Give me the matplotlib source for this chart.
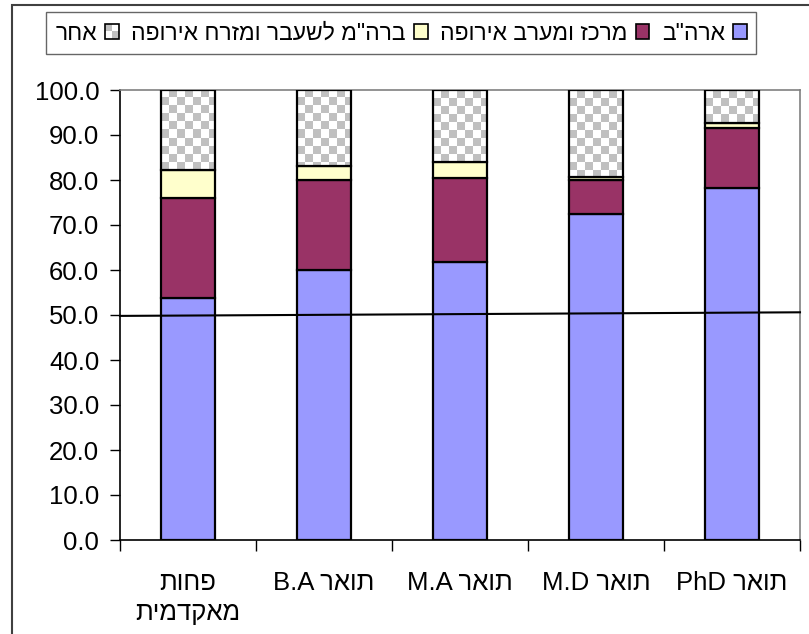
import numpy as np
import matplotlib
matplotlib.use("Agg")
import matplotlib.pyplot as plt
from matplotlib.patches import Rectangle
from matplotlib.colors import ListedColormap
from matplotlib.legend_handler import HandlerBase

plt.rcParams['font.family'] = ['Liberation Sans', 'DejaVu Sans']

# ---- data ----
categories = ['פחות\nמאקדמית', 'תואר B.A', 'תואר M.A', 'תואר M.D', 'תואר PhD']
series_names = ['ארה"ב', 'מרכז ומערב אירופה', 'ברה"מ לשעבר ומזרח אירופה', 'אחר']
usa = [53.8, 60.0, 61.8, 72.4, 78.3]
west_europe = [22.3, 20.1, 18.6, 7.6, 13.3]
fsu_east_europe = [6.1, 3.0, 3.7, 0.7, 1.1]
other = [17.8, 16.9, 15.9, 19.3, 7.3]
ref_line_y = [49.8, 50.6]
yticks = [0, 10, 20, 30, 40, 50, 60, 70, 80, 90, 100]


def rtl(s):
    """Convert logical-order Hebrew text to visual order for LTR rendering."""
    out = []
    for line in s.split('\n'):
        words = line.split(' ')
        vis = []
        for w in reversed(words):
            if any('\u0590' <= c <= '\u05ff' for c in w):
                vis.append(w[::-1])
            else:
                vis.append(w)
        out.append(' '.join(vis))
    return '\n'.join(out)


W, H = 809, 634
fig = plt.figure(figsize=(W / 100, H / 100), dpi=100)
ax = fig.add_axes([120 / W, 1 - 540 / H, 680 / W, 450 / H])

colors = ['#9999ff', '#993366', '#ffffcc']
x = np.arange(len(categories))
bw = 0.4
ax.set_xlim(-0.5, len(categories) - 0.5)
ax.set_ylim(0, 100)

bottom = np.zeros(len(categories))
for vals, col in zip([usa, west_europe, fsu_east_europe], colors):
    ax.bar(x, vals, width=bw, bottom=bottom, color=col, edgecolor='black',
           linewidth=1.6, zorder=2)
    bottom = bottom + np.array(vals)

# checkered "other" segment
cmap = ListedColormap(['white', '#c0c0c0'])
cell = 8.0
for xi, b, v in zip(x, bottom, other):
    top = b + v
    p0 = ax.transData.transform((xi - bw / 2, b))
    p1 = ax.transData.transform((xi + bw / 2, top))
    wpx, hpx = p1[0] - p0[0], p1[1] - p0[1]
    nx = int(np.ceil(wpx / cell))
    ny = int(np.ceil(hpx / cell))
    arr = np.add.outer(np.arange(ny), np.arange(nx)) % 2
    x_right = xi - bw / 2 + nx * cell * (bw / wpx)
    y_bot = top - ny * cell * (v / hpx)
    bars = ax.bar([xi], [v], width=bw, bottom=[b], facecolor='none',
                  edgecolor='black', linewidth=1.6, zorder=4)
    im = ax.imshow(arr, cmap=cmap, extent=[xi - bw / 2, x_right, y_bot, top],
                   origin='upper', aspect='auto', interpolation='nearest', zorder=3)
    im.set_clip_path(bars.patches[0])

ax.set_xlim(-0.5, len(categories) - 0.5)
ax.set_ylim(0, 100)

# reference line
ax.plot([-0.5, len(categories) - 0.5], ref_line_y, color='black', lw=1.5, zorder=5,
        clip_on=False)

# axes styling
ax.set_yticks(yticks)
ax.set_yticklabels([f'{t:.1f}' for t in yticks], fontsize=18.5)
ax.tick_params(axis='y', direction='out', length=7, width=1, pad=8)
ax.set_xticks(x)
ax.set_xticklabels([rtl(c) for c in categories], fontsize=18.5, linespacing=1.35)
ax.set_xticks(np.arange(-0.5, len(categories)), minor=True)
ax.tick_params(axis='x', which='major', length=0, pad=22)
ax.tick_params(axis='x', which='minor', direction='out', length=8, width=1)
for s in ['left', 'bottom']:
    ax.spines[s].set_color('black')
    ax.spines[s].set_linewidth(1.2)
for s in ['top', 'right']:
    ax.spines[s].set_color('#808080')
    ax.spines[s].set_linewidth(1.2)


class CheckerHandler(HandlerBase):
    def create_artists(self, legend, orig_handle, xdescent, ydescent, width,
                       height, fontsize, trans):
        arts = []
        n = 2
        for i in range(n):
            for j in range(n):
                c = '#c0c0c0' if (i + j) % 2 else 'white'
                arts.append(Rectangle((-xdescent + i * width / n, -ydescent + j * height / n),
                                      width / n, height / n, facecolor=c,
                                      edgecolor='none', transform=trans))
        arts.append(Rectangle((-xdescent, -ydescent), width, height, facecolor='none',
                              edgecolor='black', lw=1.2, transform=trans))
        return arts


handles = [Rectangle((0, 0), 1, 1, facecolor=c, edgecolor='black', lw=1.2) for c in colors]
checker_handle = Rectangle((0, 0), 1, 1, facecolor='white', edgecolor='black')
all_handles = handles + [checker_handle]
order = [3, 2, 1, 0]
leg = fig.legend([all_handles[i] for i in order], [rtl(series_names[i]) for i in order],
                 loc='center', bbox_to_anchor=(401 / W, 1 - 33 / H), ncol=4,
                 markerfirst=False, fontsize=16.5, handlelength=0.6, handleheight=0.6,
                 handletextpad=0.35, columnspacing=0.55, frameon=True, fancybox=False,
                 borderpad=0.4, handler_map={checker_handle: CheckerHandler()})
leg.get_frame().set_edgecolor('#404040')
leg.get_frame().set_linewidth(1.0)

# outer chart frame
fig.patches.append(Rectangle((12 / W, -0.1), 1.2, 1.1 - 5 / H, transform=fig.transFigure,
                             facecolor='none', edgecolor='#404040', lw=1.5, zorder=0))

fig.savefig('out.png', dpi=100)
